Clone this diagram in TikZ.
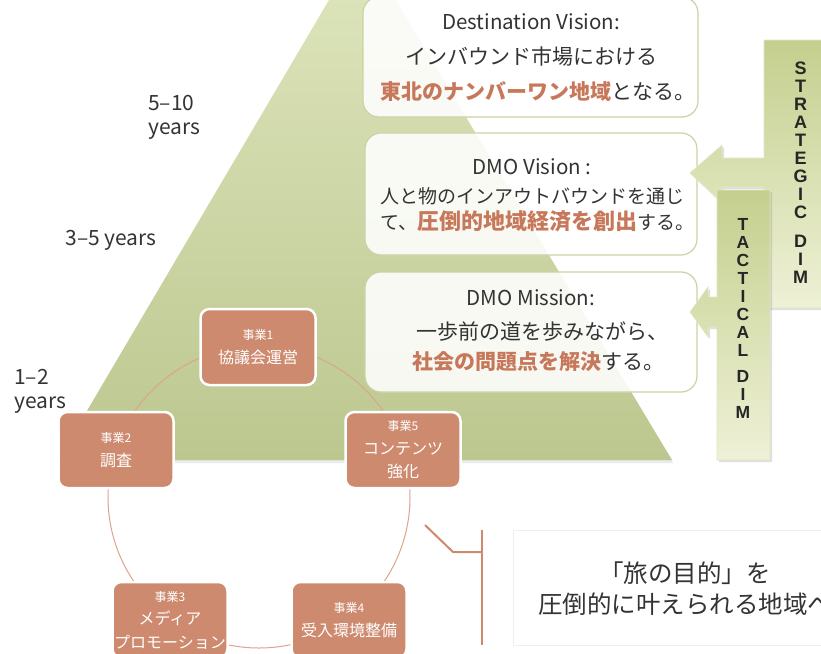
\documentclass[tikz,border=0pt]{standalone}
\usepackage{fontspec}
\setmainfont{Noto Sans CJK JP}
\newfontfamily\barfont{Liberation Sans}
\usetikzlibrary{shadows}
\definecolor{salmon}{HTML}{CD8A6E}
\definecolor{salmontxt}{HTML}{C8785A}
\definecolor{ringc}{HTML}{DCA48C}
\definecolor{txt}{HTML}{333333}
\definecolor{pyrtop}{HTML}{DFE6BE}
\definecolor{pyrbot}{HTML}{BCC78F}
\definecolor{cborder}{HTML}{C9D4A6}
\definecolor{bartop}{HTML}{C4CF8E}
\definecolor{barbot}{HTML}{EEF1D6}
\newcommand\hilite[1]{{\bfseries\color{salmontxt}#1}}
\newcommand\hiliteb[1]{{\fontsize{22}{25}\selectfont\bfseries\color{salmontxt}#1}}
\newcommand\smallsz{\fontsize{12}{14}\selectfont}
\begin{document}
\begin{tikzpicture}[x=1pt,y=-1pt,
  callout/.style={draw=cborder, line width=1.2pt, fill=white, fill opacity=0.88, rounded corners=16pt, inner sep=0pt},
  cyc/.style={draw=white, line width=2.5pt, fill=salmon, rounded corners=9pt, minimum width=115pt, minimum height=76pt, text=white, align=center, inner sep=0pt, font=\fontsize{16}{23.5}\selectfont},
  ttl/.style={text=txt, inner sep=0pt, font=\fontsize{20.5}{24}\selectfont},
  body/.style={text=txt, inner sep=0pt, font=\fontsize{21}{25}\selectfont},
  bodys/.style={text=txt, inner sep=0pt, font=\fontsize{19}{25}\selectfont, anchor=west},
  yrs/.style={text=txt, inner sep=0pt, font=\fontsize{21}{28}\selectfont},
  bartext/.style={text=black!85, inner sep=0pt, align=center},
  barshape/.style={top color=bartop, bottom color=barbot, draw=white!50!bartop, line width=0.6pt,
     drop shadow={opacity=0.25, shadow xshift=2pt, shadow yshift=-2pt}},
  ring/.style={draw=salmon, line width=2pt}
]
\useasboundingbox (0,0) rectangle (821,653);
\clip (0,0) rectangle (821,653);
\fill[white] (0,0) rectangle (821,653);

% pyramid
\shade[top color=pyrtop, bottom color=pyrbot] (362,-56) -- (672,460) -- (58,460) -- cycle;
\fill[black, opacity=0.08] (58,460) -- (672,460) -- (673,463) -- (57,463) -- cycle;

% year labels
\node[yrs, anchor=west] (y10a) at (148,103) {5–10};
\node[yrs, anchor=west] (y10b) at (148,131) {years};
\node[yrs] (y35) at (111,240) {3–5 years};
\node[yrs, anchor=west] (y12a) at (14,377) {1–2};
\node[yrs, anchor=west] (y12b) at (14,405) {years};

% callout boxes
\node[callout, minimum width=335pt, minimum height=120pt] (b1) at (530.5,57) {};
\node[callout, minimum width=332pt, minimum height=122pt] (b2) at (531,194) {};
\node[callout, minimum width=332pt, minimum height=120pt] (b3) at (531,332) {};

\node[ttl] (t1a) at (531,22) {Destination Vision:};
\node[body] (t1b) at (531,57) {インバウンド市場における};
\node[body] (t1c) at (538,92) {\hilite{東北のナンバーワン地域}となる。};

\node[ttl] (t2a) at (532,167) {DMO Vision :};
\node[bodys] (t2b) at (380,196) {人と物のインアウトバウンドを通じ};
\node[bodys] (t2c) at (380,221) {て、\hiliteb{圧倒的地域経済を創出}する。};

\node[ttl] (t3a) at (531,298) {DMO Mission:};
\node[body] (t3b) at (542,332) {一歩前の道を歩みながら、};
\node[body] (t3c) at (538,362) {\hilite{社会の問題点を解決}する。};

% strategic bar + arrow
\path[barshape] (764,40) -- (840,40) -- (840,308) -- (764,308) -- (764,187) -- (722,187) -- (722,203)
  -- (690,173) -- (722,145) -- (722,158) -- (764,158) -- cycle;
% tactical bar + arrow
\path[barshape] (717,190) -- (770,190) -- (770,460) -- (717,460) -- (717,327) -- (708,327) -- (708,337)
  -- (690,312) -- (708,287) -- (708,297) -- (717,297) -- cycle;

\node[bartext, font=\barfont\bfseries\fontsize{18}{18}\selectfont] (sdim) at (800.5,172.5)
  {S\\T\\R\\A\\T\\E\\G\\I\\C\\[11pt]D\\I\\M};
\node[bartext, font=\barfont\bfseries\fontsize{17.5}{18}\selectfont] (tdim) at (743,318)
  {T\\A\\C\\T\\I\\C\\A\\L\\[8pt]D\\I\\M};

% cycle
\coordinate (cc) at (259,497);
\draw[ringc, line width=1pt] (cc) circle (151);
\node[cyc] (c1) at (258,347) {{\smallsz 事業1}\\協議会運営};
\node[cyc] (c2) at (116,450) {{\smallsz 事業2}\\調査};
\node[cyc] (c5) at (403,450) {{\smallsz 事業5}\\コンテンツ\\強化};
\node[cyc] (c3) at (170,620) {{\smallsz 事業3}\\メディア\\プロモーション};
\node[cyc] (c4) at (349,620) {{\smallsz 事業4}\\受入環境整備};

% bracket
\coordinate (k1) at (425,525);
\coordinate (k2) at (453,552);
\coordinate (k3) at (482,552);
\coordinate (k4) at (482,530);
\coordinate (k5) at (482,645);
\draw[ring] (k1) -- (k2) -- (k3);
\draw[ring] (k4) -- (k5);

% goal text
\node[draw=black!6, fill=white, minimum width=330pt, minimum height=115pt, inner sep=0pt] (gbox) at (678,587.5) {};
\node[text=txt, align=center, inner sep=0pt, font=\fontsize{24.5}{31}\selectfont] (goal) at (685,589)
  {「旅の目的」を\\圧倒的に叶えられる地域へ};
\end{tikzpicture}
\end{document}
